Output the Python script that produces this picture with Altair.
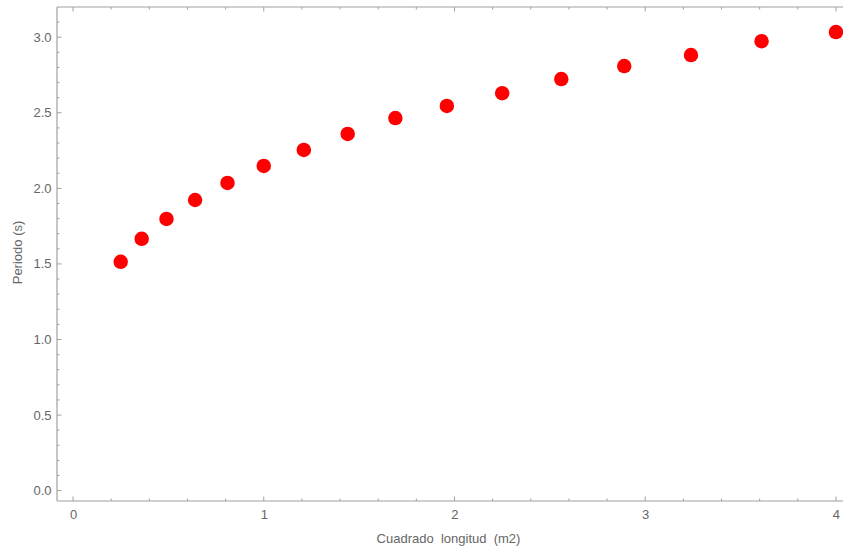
import altair as alt
import pandas as pd

# Data
x_vals = [0.25, 0.36, 0.49, 0.64, 0.81, 1.00, 1.21, 1.44, 1.69, 1.96, 2.25, 2.56, 2.89, 3.24, 3.61, 4.00]
y_vals = [1.514, 1.666, 1.798, 1.923, 2.036, 2.148, 2.254, 2.360, 2.465, 2.545, 2.630, 2.723, 2.809, 2.882, 2.974, 3.034]

x_major = [0, 1, 2, 3, 4]
x_minor = [v / 5 for v in range(0, 21) if v % 5 != 0]
y_major = [0.0, 0.5, 1.0, 1.5, 2.0, 2.5, 3.0]
y_minor = [v / 10 for v in range(0, 32) if v % 5 != 0]

W, H = 786, 494
FRAME = "#a0a0a0"
TEXT = "#666666"
FONT = "Liberation Sans"

xs = alt.Scale(domain=[-0.084, 4.037], nice=False, zero=False)
ys = alt.Scale(domain=[-0.0686, 3.2], nice=False, zero=False)

x_axis = alt.Axis(
    values=x_major, ticks=False, domain=False, grid=False, labelPadding=7,
    labelFontSize=13, labelColor=TEXT, labelFont=FONT, format="d",
    title="Cuadrado\u00a0 longitud\u00a0 (m2)", titleFontSize=13, titleColor=TEXT,
    titleFont=FONT, titleFontWeight="normal", titleX=W / 2 - 2, titleY=37,
    titleAlign="center", titleBaseline="middle")
y_axis = alt.Axis(
    values=y_major, ticks=False, domain=False, grid=False, labelPadding=6,
    labelFontSize=13, labelColor=TEXT, labelFont=FONT, format=".1f",
    title="Periodo (s)", titleFontSize=13, titleColor=TEXT, titleFont=FONT,
    titleFontWeight="normal", titleX=-40, titleY=H / 2 - 2,
    titleAlign="center", titleBaseline="middle")

df = pd.DataFrame({"x": x_vals, "y": y_vals})

points = alt.Chart(df).mark_circle(size=210, color="#ff0000", opacity=1).encode(
    x=alt.X("x:Q", scale=xs, axis=x_axis),
    y=alt.Y("y:Q", scale=ys, axis=y_axis),
)

def xticks(vals, length):
    d = pd.DataFrame({"x": vals})
    base = alt.Chart(d).mark_rule(color=FRAME, strokeWidth=1)
    bottom = base.encode(x=alt.X("x:Q", scale=xs, axis=x_axis), y=alt.value(H), y2=alt.value(H - length))
    top = base.encode(x=alt.X("x:Q", scale=xs, axis=x_axis), y=alt.value(0), y2=alt.value(length))
    return [bottom, top]

def yticks(vals, length):
    d = pd.DataFrame({"y": vals})
    base = alt.Chart(d).mark_rule(color=FRAME, strokeWidth=1)
    left = base.encode(y=alt.Y("y:Q", scale=ys, axis=y_axis), x=alt.value(0), x2=alt.value(length))
    return [left]

frame_df = pd.DataFrame({"k": [0]})
fb = alt.Chart(frame_df).mark_rule(color=FRAME, strokeWidth=1.2)
frame = [
    fb.encode(x=alt.value(0), x2=alt.value(0), y=alt.value(0), y2=alt.value(H)),
    fb.encode(x=alt.value(0), x2=alt.value(W), y=alt.value(0), y2=alt.value(0)),
    fb.encode(x=alt.value(0), x2=alt.value(W), y=alt.value(H), y2=alt.value(H)),
]

layers = [points] + xticks(x_major, 4.5) + xticks(x_minor, 2.5) + yticks(y_major, 4.5) + yticks(y_minor, 2.5) + frame

chart = alt.layer(*layers).properties(
    width=W, height=H,
    autosize=alt.AutoSizeParams(type="none"),
    padding={"left": 57, "top": 7, "right": 0, "bottom": 52},
    background="white",
).configure_view(stroke=None)

chart.save("out.html", embed_options={"renderer": "svg", "actions": False})
